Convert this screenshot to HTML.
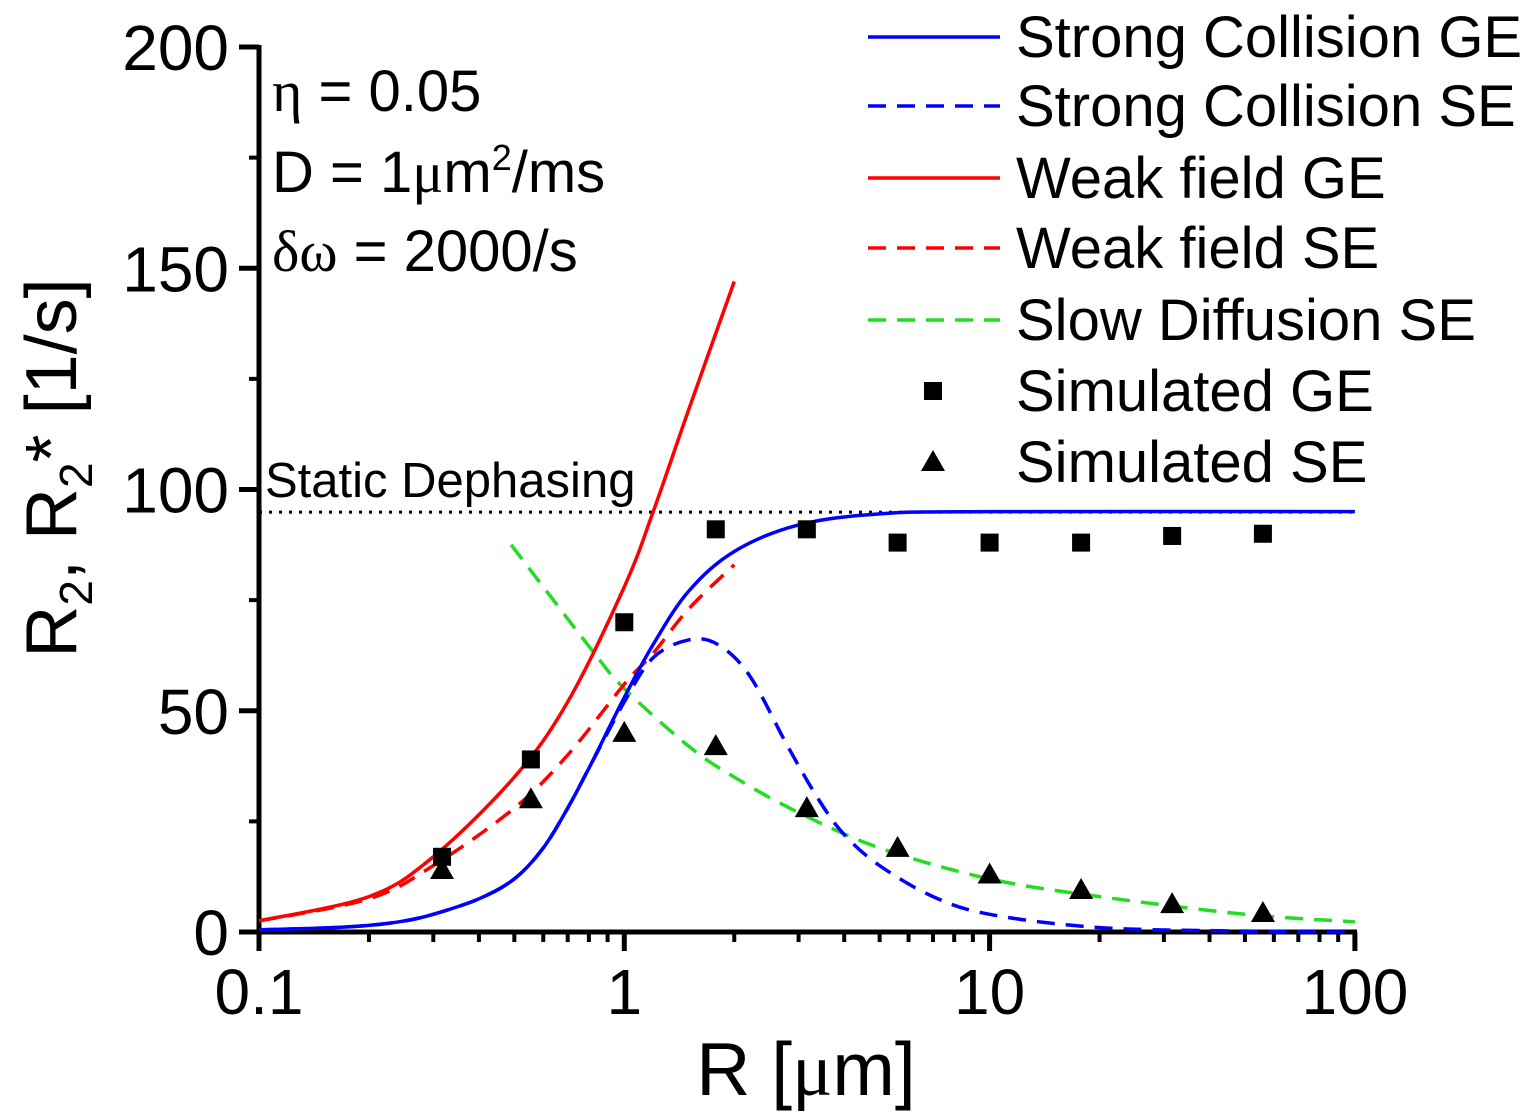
<!DOCTYPE html>
<html><head><meta charset="utf-8"><style>
html,body{margin:0;padding:0;background:#fff;}
svg{display:block;font-family:"Liberation Sans",Arial,sans-serif;}
</style></head><body>
<svg id="chart" width="1527" height="1113" viewBox="0 0 1527 1113" xmlns="http://www.w3.org/2000/svg">
<g id="axes"></g>
<g id="series"></g>
<g id="legend"></g>
<text transform="translate(76,468) rotate(-90)" text-anchor="middle" font-size="72">R<tspan font-size="46" dy="16">2</tspan><tspan dy="-16">, R</tspan><tspan font-size="46" dy="16">2</tspan><tspan dy="-16">* [1/s]</tspan></text>
<text x="806" y="1095" text-anchor="middle" font-size="75">R [<tspan font-family="Liberation Serif">μ</tspan>m]</text>
<text x="272" y="111" font-size="58"><tspan font-family="Liberation Serif">η</tspan> = 0.05</text>
<text x="272" y="192" font-size="58">D = 1<tspan font-family="Liberation Serif">μ</tspan>m<tspan font-size="36" dy="-22">2</tspan><tspan dy="22">/ms</tspan></text>
<text x="272" y="271" font-size="58"><tspan font-family="Liberation Serif">δω</tspan> = 2000/s</text>
<text x="265" y="497" font-size="49">Static Dephasing</text>
</svg>
<script>
const xTicks=[0.1,1,10,100];
const xTickLabels=["0.1","1","10","100"];
const yTicks=[0,50,100,150,200];
const yTickLabels=["0","50","100","150","200"];
const staticDephasing=94.9;
const scR=[0.1,0.15,0.2,0.25,0.3,0.4,0.5,0.6,0.7,0.8,1,1.2,1.5,2,3,5,10,100];
const scGE=[0.5,0.9,1.5,2.5,4,7.5,12,19,28,37,53,65,77,86,92,94.5,95,95];
const scSER=[0.1,0.15,0.2,0.25,0.3,0.4,0.5,0.6,0.7,0.8,1,1.2,1.5,1.8,2.2,2.8,3.4,4,5,7,10,20,50,100];
const scSE=[0.5,0.9,1.5,2.5,4,7.5,12,19,28,37,52,62,66,65,58,42,30,22,15,8,4,1,0.2,0];
const wfR=[0.1,0.2,0.3,0.5,0.7,1,1.2,1.5,2];
const wfGE=[2.5,8,17,35,52,78,95,118,147];
const wfSE=[2.5,7.5,15,28,40,56,63,73,83];
const sdR=[0.49,0.81,1,1.5,2,3,5,10,20,50,100];
const sdSE=[87.5,64,55,42,35,27,19,12,8,4,2.3];
const simR=[0.317,0.555,1,1.78,3.16,5.6,10,17.8,31.6,56];
const simGE=[17,39,70,91,91,88,88,88,89.5,90];
const simSE=[14,30,45,42,28,19,13,9.5,6.3,4.3];
const NS="http://www.w3.org/2000/svg";
const X0=259,XD=365.3,Y0=932,YS=4.425;
const xs=r=>X0+(Math.log10(r)+1)*XD;
const ys=v=>Y0-v*YS;
function mk(p,tag,at){const e=document.createElementNS(NS,tag);for(const k in at)e.setAttribute(k,at[k]);p.appendChild(e);return e;}
const axes=document.getElementById('axes');
let e=mk(axes,'line',{x1:X0,y1:Y0,x2:1357,y2:Y0,stroke:'#000','stroke-width':5});


e=mk(axes,'line',{x1:X0,y1:Y0+2,x2:X0,y2:45,stroke:'#000','stroke-width':5});


xTicks.forEach((t,i)=>{
  e=mk(axes,'line',{x1:xs(t),y1:Y0,x2:xs(t),y2:Y0+19,stroke:'#000','stroke-width':5});
  
  
  e=mk(axes,'text',{x:xs(t),y:1014,'text-anchor':'middle','font-size':64});
  e.textContent=xTickLabels[i];
  
  
  if(i<xTicks.length-1){for(let m=2;m<=9;m++){
    e=mk(axes,'line',{x1:xs(t*m),y1:Y0,x2:xs(t*m),y2:Y0+10,stroke:'#000','stroke-width':4});
    
    
  }}
});
yTicks.forEach((t,i)=>{
  e=mk(axes,'line',{x1:X0,y1:ys(t),x2:X0-20,y2:ys(t),stroke:'#000','stroke-width':5});
  
  
  e=mk(axes,'text',{x:229,y:ys(t)+23,'text-anchor':'end','font-size':64});
  e.textContent=yTickLabels[i];
  
  
  if(i<yTicks.length-1){
    e=mk(axes,'line',{x1:X0,y1:ys(t+25),x2:X0-10,y2:ys(t+25),stroke:'#000','stroke-width':4});
    
    
  }
});
const S=document.getElementById('series');
e=mk(S,'line',{x1:X0,y1:ys(staticDephasing),x2:xs(100),y2:ys(staticDephasing),stroke:'#000','stroke-width':3,'stroke-dasharray':'3 7'});


function curve(R,V,col,dash,name){
  const P=R.map((r,i)=>[xs(r),ys(V[i])]);
  let d='M'+P[0][0]+','+P[0][1];
  for(let i=0;i<P.length-1;i++){
    const p0=P[i-1]||P[i],p1=P[i],p2=P[i+1],p3=P[i+2]||P[i+1];
    const c1=[p1[0]+(p2[0]-p0[0])/6,p1[1]+(p2[1]-p0[1])/6];
    const c2=[p2[0]-(p3[0]-p1[0])/6,p2[1]-(p3[1]-p1[1])/6];
    d+=' C'+c1+' '+c2+' '+p2;
  }
  const el=mk(S,'path',{d:d,fill:'none',stroke:col,'stroke-width':3.5});
  if(dash)el.setAttribute('stroke-dasharray','18 11');
  
  
}
curve(sdR,sdSE,'#22dd22',true,'slow-diffusion-se-line');
curve(wfR,wfGE,'#ff0000',false,'weak-field-ge-line');
curve(wfR,wfSE,'#ff0000',true,'weak-field-se-line');
curve(scR,scGE,'#0000ff',false,'strong-collision-ge-line');
curve(scSER,scSE,'#0000ff',true,'strong-collision-se-line');
simR.forEach((r,i)=>{
  e=mk(S,'rect',{x:xs(r)-9,y:ys(simGE[i])-9,width:18,height:18,fill:'#000'});
  
  
  const cx=xs(r),cy=ys(simSE[i]);
  e=mk(S,'polygon',{points:`${cx},${cy-12} ${cx-12},${cy+9} ${cx+12},${cy+9}`,fill:'#000'});
  
  
});
const L=document.getElementById('legend');
const legNames=["Strong Collision GE","Strong Collision SE","Weak field GE","Weak field SE","Slow Diffusion SE","Simulated GE","Simulated SE"];
const legY=[37,106,178,248,320,391,462];
const legCol=['#0000ff','#0000ff','#ff0000','#ff0000','#22dd22'];
const legDash=[false,true,false,true,true];
legNames.forEach((n,i)=>{
  const y=legY[i];
  if(i<5){
    e=mk(L,'line',{x1:868,y1:y,x2:1000,y2:y,stroke:legCol[i],'stroke-width':3.5});
    if(legDash[i])e.setAttribute('stroke-dasharray','18 11');
  }else if(i==5){
    e=mk(L,'rect',{x:924,y:y-9,width:18,height:18,fill:'#000'});
  }else{
    e=mk(L,'polygon',{points:`933,${y-12} 921,${y+9} 945,${y+9}`,fill:'#000'});
  }
  
  
  e=mk(L,'text',{x:1016,y:y+20,'font-size':58});
  e.textContent=n;
  
  
});
</script>
</body></html>
